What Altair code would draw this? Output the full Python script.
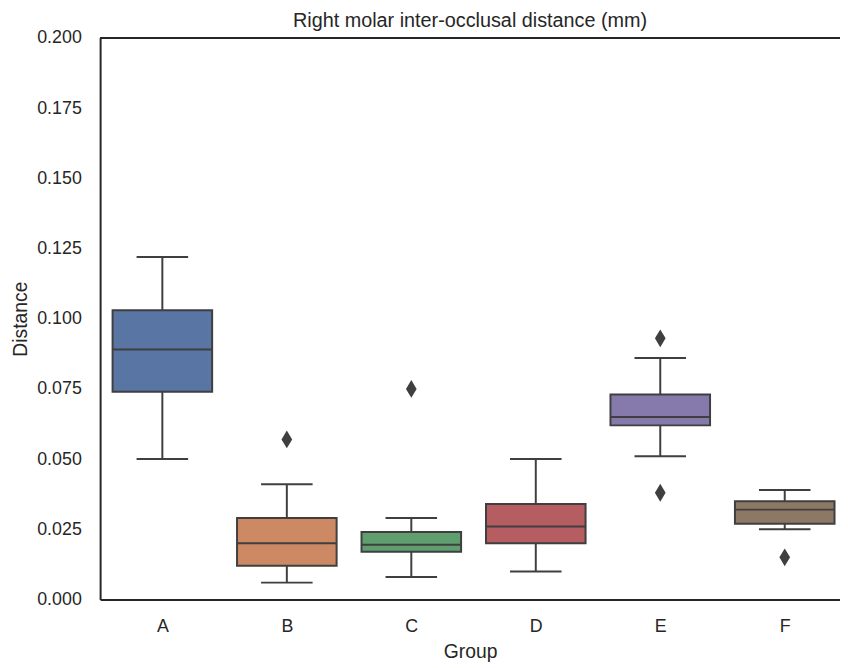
import json
import altair as alt
import pandas as pd

groups = ["A", "B", "C", "D", "E", "F"]
whisker_low = [0.050, 0.006, 0.008, 0.010, 0.051, 0.025]
q1 = [0.074, 0.012, 0.017, 0.020, 0.062, 0.027]
median = [0.089, 0.020, 0.0195, 0.026, 0.065, 0.032]
q3 = [0.103, 0.029, 0.024, 0.034, 0.073, 0.035]
whisker_high = [0.122, 0.041, 0.029, 0.050, 0.086, 0.039]
outlier_groups = ["B", "C", "E", "E", "F"]
outlier_values = [0.057, 0.075, 0.093, 0.038, 0.015]
colors = ["#5875a4", "#cc8963", "#5f9e6e", "#b55d60", "#857aab", "#8d7866"]
y_ticks = [0.0, 0.025, 0.05, 0.075, 0.1, 0.125, 0.15, 0.175, 0.2]

stats = pd.DataFrame({
    "group": groups, "lo": whisker_low, "q1": q1, "med": median,
    "q3": q3, "hi": whisker_high,
})
outl = pd.DataFrame({"group": outlier_groups, "value": outlier_values})

EDGE = "#3f3f3f"
TXT = "#262626"
G = json.dumps(groups)

xscale = alt.Scale(domain=[-0.5, 5.444], nice=False, zero=False)
xaxis = alt.Axis(values=list(range(len(groups))), labelExpr=f"{G}[datum.value]",
                 ticks=False, grid=False, labelPadding=18, titlePadding=8,
                 domainColor=TXT, domainWidth=2)
yscale = alt.Scale(domain=[0, 0.2], nice=False, zero=False)
yaxis = alt.Axis(values=y_ticks, format=".3f", ticks=False, labelPadding=19,
                 titlePadding=6, domainColor=TXT, domainWidth=2, grid=False)

base = alt.Chart(stats).transform_calculate(
    idx=f"indexof({G}, datum.group)"
).transform_calculate(
    bl="datum.idx - 0.4", br="datum.idx + 0.4",
    cl="datum.idx - 0.207", cr="datum.idx + 0.207",
)

whisk = base.mark_rule(color=EDGE, strokeWidth=2).encode(
    x=alt.X("idx:Q", title="Group", scale=xscale, axis=xaxis),
    y=alt.Y("lo:Q", title="Distance", scale=yscale, axis=yaxis), y2="hi:Q")
box = base.mark_bar(stroke=EDGE, strokeWidth=2).encode(
    x=alt.X("bl:Q", scale=xscale), x2="br:Q",
    y=alt.Y("q1:Q", scale=yscale), y2="q3:Q",
    color=alt.Color("group:N", scale=alt.Scale(domain=groups, range=colors), legend=None))
cap_lo = base.mark_rule(color=EDGE, strokeWidth=2).encode(
    x=alt.X("cl:Q", scale=xscale), x2="cr:Q", y=alt.Y("lo:Q", scale=yscale))
cap_hi = base.mark_rule(color=EDGE, strokeWidth=2).encode(
    x=alt.X("cl:Q", scale=xscale), x2="cr:Q", y=alt.Y("hi:Q", scale=yscale))
med = base.mark_rule(color=EDGE, strokeWidth=2).encode(
    x=alt.X("bl:Q", scale=xscale), x2="br:Q", y=alt.Y("med:Q", scale=yscale))
pts = alt.Chart(outl).transform_calculate(
    idx=f"indexof({G}, datum.group)"
).mark_point(shape="M0,-1L0.6,0L0,1L-0.6,0Z", filled=True, size=324,
             color=EDGE, opacity=1).encode(
    x=alt.X("idx:Q", scale=xscale), y=alt.Y("value:Q", scale=yscale))
top = alt.Chart(stats).mark_rule(color=TXT, strokeWidth=2).encode(y=alt.datum(0.2))

chart = alt.layer(whisk, box, cap_lo, cap_hi, med, pts, top).properties(
    width=747, height=567,
    title=alt.TitleParams("Right molar inter-occlusal distance (mm)", fontSize=20,
                          fontWeight="normal", color=TXT, offset=-2, frame="group"),
    autosize=alt.AutoSizeParams(type="none"),
    padding={"left": 93, "top": 27, "right": 0, "bottom": 64},
).configure(font="Liberation Sans").configure_view(stroke=None).configure_axis(
    labelFontSize=18, titleFontSize=19.5, labelColor=TXT, titleColor=TXT,
    titleFontWeight="normal")

chart.save("out.html", embed_options={"renderer": "svg", "actions": False})
